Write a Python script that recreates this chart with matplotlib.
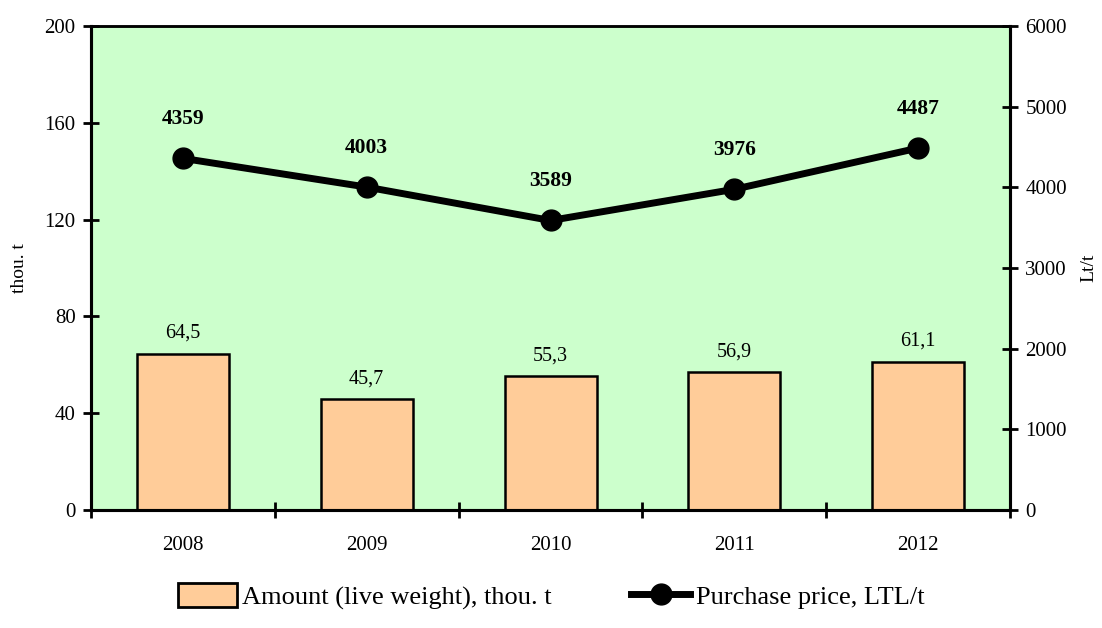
import matplotlib
matplotlib.use("Agg")
import matplotlib.pyplot as plt
import numpy as np
from matplotlib.lines import Line2D
from matplotlib.patches import Patch

plt.rcParams['font.family'] = ['Liberation Serif', 'DejaVu Serif']

years = ['2008', '2009', '2010', '2011', '2012']
amount = [64.5, 45.7, 55.3, 56.9, 61.1]
price = [4359, 4003, 3589, 3976, 4487]
amount_labels = ['64,5', '45,7', '55,3', '56,9', '61,1']

fig = plt.figure(figsize=(11.02, 6.28), dpi=100)
ax = fig.add_axes([0.0826, 0.1879, 0.834, 0.7707])
ax.set_facecolor('#CCFFCC')

x = np.arange(len(years))
ax.bar(x, amount, width=0.5, color='#FFCC99', edgecolor='black', linewidth=1.8, zorder=2)
ax.set_xlim(-0.5, len(years) - 0.5)
ax.set_ylim(0, 200)
ax.set_yticks(np.arange(0, 201, 40))
ax.set_xticks(np.arange(-0.5, len(years), 1.0))
ax.set_xticklabels([])
ax.set_xticks(x, minor=True)
ax.set_xticklabels(years, minor=True)
ax.tick_params(axis='x', which='minor', length=0, pad=19, labelsize=15)
ax.tick_params(axis='x', which='major', direction='inout', length=12, width=2)
ax.tick_params(axis='y', direction='inout', length=12, width=2, labelsize=15, pad=5)
ax.set_ylabel('thou. t', fontsize=14, labelpad=12)

for xi, v, lab in zip(x, amount, amount_labels):
    ax.annotate(lab, (xi, v), xytext=(0, 8), textcoords='offset points',
                ha='center', va='bottom', fontsize=14.5)

ax2 = ax.twinx()
ax2.plot(x, price, color='black', linewidth=5, marker='o', markersize=15, zorder=3)
ax2.set_ylim(0, 6000)
ax2.set_yticks(np.arange(0, 6001, 1000))
ax2.tick_params(axis='y', direction='inout', length=12, width=2, labelsize=15, pad=5)
ax2.set_ylabel('Lt/t', fontsize=14, labelpad=10)

for xi, v in zip(x, price):
    ax2.annotate(str(v), (xi, v), xytext=(0, 21), textcoords='offset points',
                 ha='center', va='bottom', fontsize=15.5, fontweight='bold')

for a in (ax, ax2):
    for side in ('left', 'right', 'bottom'):
        a.spines[side].set_linewidth(2.2)
    a.spines['top'].set_linewidth(1.8)

handles = [Patch(facecolor='#FFCC99', edgecolor='black', linewidth=2),
           Line2D([0], [0], color='black', linewidth=5, marker='o', markersize=15)]
fig.legend(handles, ['Amount (live weight), thou. t', 'Purchase price, LTL/t'],
           loc='lower center', bbox_to_anchor=(0.5, 0.0), ncol=2, frameon=False,
           fontsize=19, handlelength=2.25, handletextpad=0.2, columnspacing=3.0,
           handleheight=1.0, borderaxespad=0.3)

fig.savefig('out.png', dpi=100)
